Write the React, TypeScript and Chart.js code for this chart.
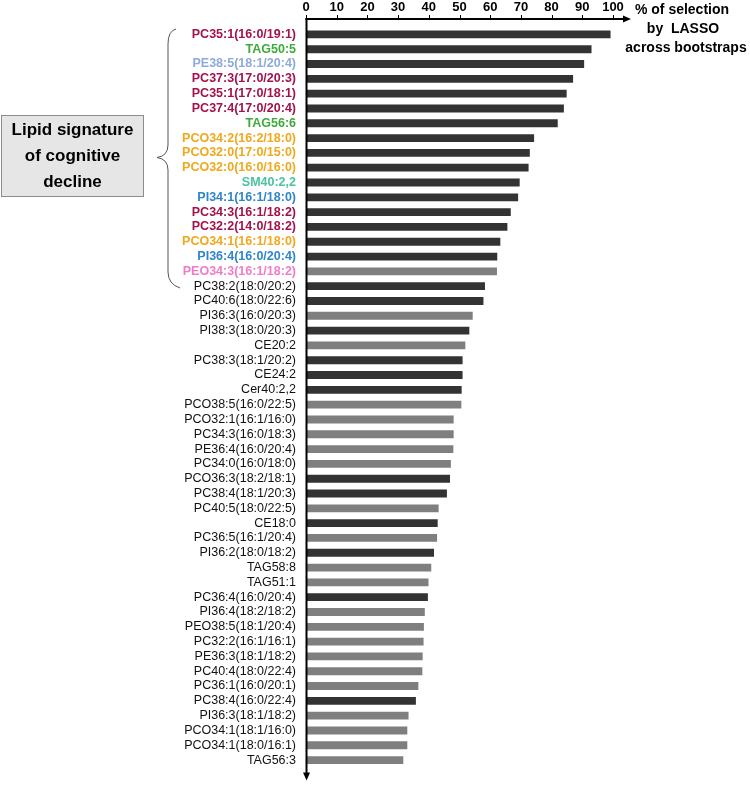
import React, { useEffect, useRef } from "react";
import { Chart, registerables } from "chart.js";

Chart.register(...registerables);

const labels: string[] = [
  "PC35:1(16:0/19:1)", "TAG50:5", "PE38:5(18:1/20:4)", "PC37:3(17:0/20:3)", "PC35:1(17:0/18:1)",
  "PC37:4(17:0/20:4)", "TAG56:6", "PCO34:2(16:2/18:0)", "PCO32:0(17:0/15:0)", "PCO32:0(16:0/16:0)",
  "SM40:2,2", "PI34:1(16:1/18:0)", "PC34:3(16:1/18:2)", "PC32:2(14:0/18:2)", "PCO34:1(16:1/18:0)",
  "PI36:4(16:0/20:4)", "PEO34:3(16:1/18:2)",
  "PC38:2(18:0/20:2)", "PC40:6(18:0/22:6)", "PI36:3(16:0/20:3)", "PI38:3(18:0/20:3)", "CE20:2",
  "PC38:3(18:1/20:2)", "CE24:2", "Cer40:2,2", "PCO38:5(16:0/22:5)", "PCO32:1(16:1/16:0)",
  "PC34:3(16:0/18:3)", "PE36:4(16:0/20:4)", "PC34:0(16:0/18:0)", "PCO36:3(18:2/18:1)", "PC38:4(18:1/20:3)",
  "PC40:5(18:0/22:5)", "CE18:0", "PC36:5(16:1/20:4)", "PI36:2(18:0/18:2)", "TAG58:8", "TAG51:1",
  "PC36:4(16:0/20:4)", "PI36:4(18:2/18:2)", "PEO38:5(18:1/20:4)", "PC32:2(16:1/16:1)", "PE36:3(18:1/18:2)",
  "PC40:4(18:0/22:4)", "PC36:1(16:0/20:1)", "PC38:4(16:0/22:4)", "PI36:3(18:1/18:2)", "PCO34:1(18:1/16:0)",
  "PCO34:1(18:0/16:1)", "TAG56:3",
];

const values: number[] = [
  99.2, 93.0, 90.6, 87.0, 84.9, 84.0, 82.0, 74.3, 72.9, 72.5,
  69.6, 69.1, 66.7, 65.6, 63.3, 62.3, 62.2,
  58.3, 57.8, 54.3, 53.2, 51.9, 51.0, 51.0, 50.7, 50.6, 48.1,
  48.1, 48.0, 47.2, 46.9, 45.9, 43.2, 42.9, 42.7, 41.7, 40.8, 39.9,
  39.7, 38.7, 38.4, 38.3, 38.0, 37.9, 36.6, 35.8, 33.4, 33.0, 33.0, 31.7,
];

// 1 = dark bar, 0 = grey bar
const darkBar: number[] = [
  1, 1, 1, 1, 1, 1, 1, 1, 1, 1, 1, 1, 1, 1, 1, 1, 0,
  1, 1, 0, 1, 0, 1, 1, 1, 0, 0, 0, 0, 0, 1, 1, 0,
  1, 0, 1, 0, 0, 1, 0, 0, 0, 0, 0, 0, 1, 0, 0, 0, 0,
];

// lipid class of the signature labels (coloured, bold); others are plain
const signatureClass: string[] = [
  "PC", "TAG", "PE", "PC", "PC", "PC", "TAG", "PCO", "PCO", "PCO",
  "SM", "PI", "PC", "PC", "PCO", "PI", "PEO",
];

const xTicks: number[] = [0, 10, 20, 30, 40, 50, 60, 70, 80, 90, 100];
const axisTitle: string[] = ["% of selection", "by  LASSO", "across bootstraps"];
const boxText: string[] = ["Lipid signature", "of cognitive", "decline"];

const classColors: Record<string, string> = {
  PC: "#a3124b",
  TAG: "#3dab3a",
  PE: "#8eaadb",
  PCO: "#f0a81c",
  SM: "#4cc2a0",
  PI: "#2e86c8",
  PEO: "#f07cc6",
};

const FONT = "'Liberation Sans', Arial, sans-serif";

const decorPlugin = {
  id: "decor",
  afterDraw(chart: any) {
    const ctx = chart.ctx as CanvasRenderingContext2D;
    const area = chart.chartArea;
    const xs = chart.scales.x;
    const axisY = area.top - 8;
    const axisX = area.left + 0.5;
    ctx.save();
    ctx.strokeStyle = "#000";
    ctx.fillStyle = "#000";
    ctx.lineWidth = 2;
    // horizontal axis
    ctx.beginPath();
    ctx.moveTo(axisX - 1, axisY);
    ctx.lineTo(area.right + 12, axisY);
    ctx.stroke();
    ctx.beginPath();
    ctx.moveTo(area.right + 18, axisY);
    ctx.lineTo(area.right + 10, axisY - 3.5);
    ctx.lineTo(area.right + 10, axisY + 3.5);
    ctx.closePath();
    ctx.fill();
    // vertical axis
    ctx.beginPath();
    ctx.moveTo(axisX, axisY - 1);
    ctx.lineTo(axisX, area.bottom + 6);
    ctx.stroke();
    ctx.beginPath();
    ctx.moveTo(axisX, area.bottom + 13);
    ctx.lineTo(axisX - 3.5, area.bottom + 5);
    ctx.lineTo(axisX + 3.5, area.bottom + 5);
    ctx.closePath();
    ctx.fill();
    // tick marks
    ctx.lineWidth = 1;
    xTicks.forEach((v) => {
      const px = Math.round(xs.getPixelForValue(v)) + 0.5;
      ctx.beginPath();
      ctx.moveTo(px, axisY - 4);
      ctx.lineTo(px, axisY);
      ctx.stroke();
    });
    // axis title
    ctx.font = `bold 14px ${FONT}`;
    ctx.textAlign = "center";
    ctx.textBaseline = "middle";
    const tx = [682, 683, 686];
    const ty = [10, 29, 48];
    axisTitle.forEach((t, i) => ctx.fillText(t, tx[i], ty[i]));

    // signature box
    ctx.fillStyle = "#e6e6e6";
    ctx.fillRect(1, 115, 143, 82);
    ctx.strokeStyle = "#8c8c8c";
    ctx.lineWidth = 1;
    ctx.strokeRect(1.5, 115.5, 142, 81);
    ctx.fillStyle = "#000";
    ctx.font = `bold 17px ${FONT}`;
    const by = [130.5, 156, 182];
    boxText.forEach((t, i) => ctx.fillText(t, 72.5, by[i]));

    // brace
    ctx.strokeStyle = "#555";
    ctx.lineWidth = 1;
    ctx.beginPath();
    ctx.moveTo(176, 29);
    ctx.quadraticCurveTo(168, 31, 168, 44);
    ctx.lineTo(168, 145);
    ctx.quadraticCurveTo(168, 156, 157, 157.5);
    ctx.quadraticCurveTo(168, 159, 168, 170);
    ctx.lineTo(168, 272);
    ctx.quadraticCurveTo(168, 284, 180, 288);
    ctx.stroke();
    ctx.restore();
  },
};

export default function App() {
  const canvasRef = useRef<HTMLCanvasElement | null>(null);

  useEffect(() => {
    const canvas = canvasRef.current;
    if (!canvas) return;
    const chart = new Chart(canvas, {
      type: "bar",
      data: {
        labels,
        datasets: [
          {
            data: values,
            backgroundColor: darkBar.map((d) => (d ? "#333333" : "#7f7f7f")),
            barPercentage: 0.53,
            categoryPercentage: 1,
          },
        ],
      },
      options: {
        indexAxis: "y",
        responsive: false,
        animation: false,
        layout: { padding: { left: 0, right: 137, top: 0, bottom: 14 } },
        plugins: { legend: { display: false }, tooltip: { enabled: false } },
        scales: {
          x: {
            position: "top",
            min: 0,
            max: 100,
            afterFit: (s: any) => {
              s.height = 27;
            },
            grid: { display: false, drawTicks: false },
            border: { display: false },
            ticks: {
              stepSize: 10,
              autoSkip: false,
              maxRotation: 0,
              padding: 12,
              color: "#000",
              font: { family: FONT, size: 13, weight: "bold" },
            },
          },
          y: {
            afterFit: (s: any) => {
              s.width = 306;
            },
            grid: { display: false, drawTicks: false },
            border: { display: false },
            ticks: {
              autoSkip: false,
              padding: 10,
              color: (c: any) =>
                c.index < signatureClass.length ? classColors[signatureClass[c.index]] : "#111",
              font: (c: any) => ({
                family: FONT,
                size: 12.5,
                weight: c.index < signatureClass.length ? "bold" : "normal",
              }),
            },
          },
        },
      } as any,
      plugins: [decorPlugin],
    });
    return () => chart.destroy();
  }, []);

  return (
    <div style={{ position: "fixed", left: 0, top: 0, width: 750, height: 785, background: "#fff" }}>
      <canvas ref={canvasRef} width={750} height={785} style={{ display: "block" }} />
    </div>
  );
}
